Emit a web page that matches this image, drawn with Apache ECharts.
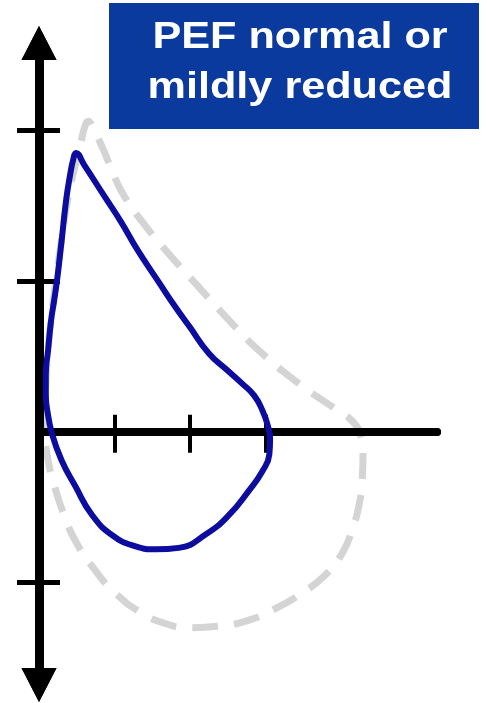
<!DOCTYPE html>
<html>
<head>
<meta charset="utf-8">
<script src="https://cdn.jsdelivr.net/npm/echarts@6/dist/echarts.min.js"></script>
<style>
html,body{margin:0;padding:0;background:#fff;}
#chart{width:488px;height:703px;}
</style>
</head>
<body>
<div id="chart"></div>
<script>
// volume (x) / flow (y) pairs
var blueLoop = [
    [0.17,-0.01],[0.12,0.11],[0.09,0.25],[0.09,0.38],[0.12,0.54],[0.16,0.74],[0.20,0.87],
    [0.24,1.01],[0.30,1.27],[0.36,1.54],[0.41,1.70],[0.45,1.80],[0.49,1.85],
    [0.60,1.77],[0.87,1.56],[1.09,1.39],[1.30,1.21],[1.59,0.99],[1.79,0.84],
    [1.99,0.70],[2.25,0.52],[2.49,0.41],[2.69,0.32],[2.85,0.24],[2.96,0.14],[3.03,0.04],
    [3.06,-0.05],[3.05,-0.15],[2.96,-0.26],[2.78,-0.39],[2.52,-0.55],[2.21,-0.68],
    [1.85,-0.77],[1.55,-0.78],[1.28,-0.76],[0.98,-0.69],[0.70,-0.55],[0.48,-0.36],
    [0.30,-0.19],[0.17,-0.01]
];
var grayLoop = [
    [0.07,0.00],[0.08,0.21],[0.12,0.54],[0.19,0.87],[0.28,1.21],[0.38,1.54],[0.48,1.77],
    [0.56,1.93],[0.61,2.03],[0.65,2.06],[0.72,2.01],[0.81,1.92],[0.93,1.78],[1.11,1.58],
    [1.42,1.36],[1.72,1.18],[2.08,0.98],[2.48,0.76],[2.91,0.54],[3.44,0.32],[3.90,0.16],
    [4.15,0.07],[4.26,-0.03],[4.29,-0.15],[4.28,-0.32],[4.24,-0.48],[4.16,-0.63],
    [4.01,-0.81],[3.77,-0.96],[3.48,-1.07],[3.18,-1.16],[2.78,-1.25],[2.38,-1.29],
    [1.99,-1.30],[1.66,-1.27],[1.32,-1.19],[0.99,-1.06],[0.73,-0.91],[0.50,-0.74],
    [0.33,-0.55],[0.20,-0.35],[0.12,-0.19],[0.07,0.00]
];
var xTicks = [1, 2, 3];
var yTicks = [-1, 1, 2];
var titleText = 'PEF normal or\nmildly reduced';

var chart = echarts.init(document.getElementById('chart'));

function xAx(inside, len, idx){
    return {
        type:'value', min:0, max:5.27, position:'bottom', z:1,
        axisLine:{show:true, onZero:true, onZeroAxisIndex:idx, lineStyle:{color:'#000', width:8}},
        axisTick:{show:true, customValues:xTicks, inside:inside, length:len, lineStyle:{color:'#000', width:4}},
        axisLabel:{show:false},
        splitLine:{show:false}
    };
}
function yAx(inside, len){
    return {
        type:'value', min:-1.68, max:2.58, position:'left', z:1,
        axisLine:{show:true, onZero:true, onZeroAxisIndex:0, symbol:['triangle','triangle'], symbolSize:[35,34],
            lineStyle:{color:'#000', width:9}},
        axisTick:{show:true, customValues:yTicks, inside:inside, length:len, lineStyle:{color:'#000', width:5}},
        axisLabel:{show:false},
        splitLine:{show:false}
    };
}

var option = {
    animation:false,
    grid:{left:39, right:51, top:43, bottom:18},
    xAxis:[xAx(true,17,0), xAx(false,21,1)],
    yAxis:[yAx(false,22), yAx(true,21)],
    series:[
        {
            name:'reference', type:'line', z:0,
            data:grayLoop, smooth:0.5, showSymbol:false,
            lineStyle:{color:'#d4d4d4', width:7, type:[26,16]}
        },
        {
            name:'patient', type:'line', z:3,
            data:blueLoop, smooth:0.5, showSymbol:false,
            lineStyle:{color:'#0c0c9e', width:6}
        }
    ],
    graphic:[
        {
            type:'rect', left:109, top:3, z:10,
            shape:{width:370, height:126},
            style:{fill:'#0a3a9e'}
        },
        {
            type:'text', x:300, y:13, z:11, scaleX:1.2, originX:0,
            style:{
                text:titleText, fill:'#fff',
                font:'bold 36px "Liberation Sans", Arial, sans-serif',
                align:'center', verticalAlign:'top', lineHeight:50
            }
        }
    ]
};
chart.setOption(option);
</script>
</body>
</html>
